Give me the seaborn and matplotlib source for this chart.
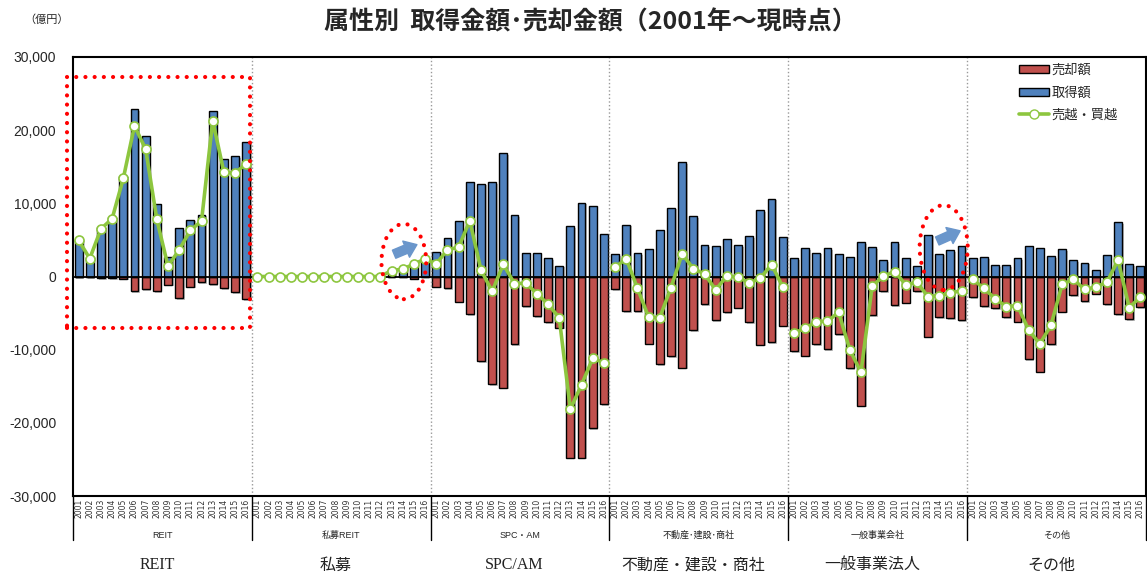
import matplotlib
matplotlib.use("Agg")
import matplotlib.pyplot as plt
import matplotlib.patheffects as pe
import matplotlib.transforms as mtransforms
from matplotlib.lines import Line2D
from matplotlib.patches import Ellipse, Patch, Rectangle
import pandas as pd
import seaborn as sns

sns.set_theme(style="white")
plt.rcParams["font.family"] = ["Liberation Sans", "Noto Sans CJK JP", "DejaVu Sans"]

BLUE = "#4F81BD"
RED = "#C0504D"
GREEN = "#8DC63F"

years = ["2001", "2002", "2003", "2004", "2005", "2006", "2007", "2008",
         "2009", "2010", "2011", "2012", "2013", "2014", "2015", "2016"]
groups = ["REIT", "私募REIT", "SPC・AM", "不動産･建設･商社", "一般事業会社", "その他"]
groups_big = ["REIT", "私募", "SPC/AM", "不動産・建設・商社", "一般事業法人", "その他"]

# 取得額 (億円)
acq_reit = [5000, 2600, 6800, 8200, 13800, 22900, 19200, 9900, 2650, 6600, 7750, 8450, 22600, 16000, 16450, 18400]
acq_private = [0, 0, 0, 0, 0, 0, 0, 0, 0, 0, 0, 0, 1000, 1100, 1600, 2300]
acq_spc = [3380, 5250, 7580, 12880, 12700, 12880, 16900, 8360, 3240, 3240, 2510, 1460, 6850, 10090, 9630, 5750]
acq_realestate = [3060, 7080, 3150, 3740, 6350, 9400, 15620, 8260, 4290, 4160, 5070, 4290, 5480, 9090, 10640, 5390]
acq_corp = [2470, 3880, 3240, 3880, 3110, 2650, 4700, 4020, 2190, 4660, 2470, 1420, 5710, 3110, 3560, 4160]
acq_other = [2470, 2650, 1550, 1550, 2470, 4160, 3880, 2740, 3740, 2190, 1870, 910, 2920, 7440, 1690, 1370]

# 売却額 (億円)
sale_reit = [-100, -100, -200, -200, -300, -2000, -1700, -2000, -1100, -3000, -1400, -800, -1050, -1550, -2150, -3100]
sale_private = [0, 0, 0, 0, 0, 0, 0, 0, 0, 0, 0, 0, 0, 0, -300, 0]
sale_spc = [-1370, -1550, -3420, -5110, -11600, -14750, -15200, -9270, -4020, -5430, -6210, -6990, -24750, -24750, -20690, -17490]
sale_realestate = [-1740, -4700, -4700, -9180, -11960, -10870, -12470, -7310, -3740, -5940, -4840, -4250, -6260, -9320, -9000, -6710]
sale_corp = [-10230, -10820, -9270, -9910, -7900, -12560, -17670, -5300, -2010, -3880, -3560, -2010, -8220, -5570, -5710, -5980]
sale_other = [-2830, -4020, -4340, -5570, -6160, -11320, -13010, -9270, -4790, -2510, -3380, -2330, -3740, -5160, -5840, -4200]

# 売越・買越 (億円)
net_reit = [4950, 2450, 6500, 7900, 13400, 20600, 17400, 7800, 1400, 3650, 6300, 7600, 21300, 14250, 14150, 15400]
net_private = [0, 0, 0, 0, 0, 0, 0, 0, 0, 0, 0, 0, 820, 1000, 1700, 2400]
net_spc = [1735, 3650, 4000, 7630, 910, -2050, 1690, -1000, -900, -2330, -3790, -5620, -18130, -14790, -11190, -11780]
net_realestate = [1280, 2420, -1600, -5570, -5620, -1510, 3100, 1050, 370, -1830, 90, -90, -870, -230, 1640, -1420]
net_corp = [-7720, -7080, -6160, -6120, -4890, -10000, -13100, -1320, 50, 680, -1100, -820, -2740, -2600, -2280, -1920]
net_other = [-370, -1640, -3010, -4110, -3970, -7310, -9220, -6670, -1050, -410, -1740, -1460, -780, 2240, -4250, -2790]

acq = [acq_reit, acq_private, acq_spc, acq_realestate, acq_corp, acq_other]
sale = [sale_reit, sale_private, sale_spc, sale_realestate, sale_corp, sale_other]
net = [net_reit, net_private, net_spc, net_realestate, net_corp, net_other]

rows = []
for gi, g in enumerate(groups):
    for yi, y in enumerate(years):
        rows.append({"pos": gi * len(years) + yi, "group": g, "year": y,
                     "acq": acq[gi][yi], "sale": sale[gi][yi], "net": net[gi][yi]})
df = pd.DataFrame(rows)
n = len(df)

fig = plt.figure(figsize=(11.47, 5.74), dpi=100)
ax = fig.add_axes([73 / 1147, 1 - 496 / 574, 1073 / 1147, 439 / 574])

sns.barplot(data=df, x="pos", y="sale", native_scale=True, width=0.7, color=RED,
            saturation=1, edgecolor="black", linewidth=1, errorbar=None, ax=ax)
sns.barplot(data=df, x="pos", y="acq", native_scale=True, width=0.7, color=BLUE,
            saturation=1, edgecolor="black", linewidth=1, errorbar=None, ax=ax)
for p in ax.patches:
    p.set_path_effects([pe.SimplePatchShadow(offset=(1.2, -1.2), shadow_rgbFace="gray", alpha=0.5),
                        pe.Normal()])

ax.axhline(0, color="black", lw=1.3, zorder=3)

# the green line breaks between groups, except 私募REIT -> SPC・AM
segments = [["REIT"], ["私募REIT", "SPC・AM"], ["不動産･建設･商社"], ["一般事業会社"], ["その他"]]
for seg in segments:
    sub = df[df["group"].isin(seg)]
    sns.lineplot(data=sub, x="pos", y="net", color=GREEN, lw=2.6, marker="o",
                 markersize=6.5, markerfacecolor="white", markeredgecolor=GREEN,
                 markeredgewidth=1.2, ax=ax, zorder=5)

ax.set_xlim(-0.5, n - 0.5)
ax.set_ylim(-30000, 30000)
ax.set_yticks([-30000, -20000, -10000, 0, 10000, 20000, 30000])
ax.set_yticklabels([f"{v:,}" for v in [-30000, -20000, -10000, 0, 10000, 20000, 30000]], fontsize=10)
ax.set_xticks(df["pos"])
ax.set_xticklabels(df["year"], rotation=90, fontsize=5.5, family="DejaVu Sans", color="#333333")
ax.tick_params(axis="x", length=0, pad=2)
ax.tick_params(axis="y", length=0, pad=12)
ax.set_xlabel("")
ax.set_ylabel("")
for s in ax.spines.values():
    s.set_color("black")
    s.set_linewidth(1.5)

trans = mtransforms.blended_transform_factory(ax.transData, ax.transAxes)
bounds = [gi * len(years) - 0.5 for gi in range(len(groups) + 1)]
for b in bounds:
    ax.plot([b, b], [0, -0.1], transform=trans, color="black", lw=1, clip_on=False)
for b in bounds[1:-1]:
    ax.axvline(b, color="#999999", ls=":", lw=1, zorder=1)
for gi, g in enumerate(groups):
    c = gi * len(years) + (len(years) - 1) / 2
    ax.text(c, -0.089, g, transform=trans, ha="center", va="center", fontsize=6.5)
    ax.text(c - 0.5, -0.158, groups_big[gi], transform=trans, ha="center", va="center",
            fontsize=11.5, family=["Liberation Serif", "Noto Sans CJK JP"], color="#222222")

# red dotted highlights
dots = dict(edgecolor="red", facecolor="none", linewidth=3, linestyle=(0, (0.01, 2.2)),
            capstyle="round", zorder=6)
ax.add_patch(Rectangle((-1.05, -7000), 16.43, 34200, clip_on=False, **dots))
ax.add_patch(Ellipse((29.1, 2050), 4.0, 10300, **dots))
ax.add_patch(Ellipse((77.4, 3950), 4.3, 11600, **dots))
arrow = dict(arrowstyle="simple,head_length=0.6,head_width=0.9,tail_width=0.45",
             color="#6A96CB", mutation_scale=14)
ax.annotate("", xy=(30.5, 4500), xytext=(28.0, 2900), arrowprops=arrow, zorder=7)
ax.annotate("", xy=(79.1, 6400), xytext=(76.6, 4700), arrowprops=arrow, zorder=7)

handles = [Patch(facecolor=RED, edgecolor="black", label="売却額"),
           Patch(facecolor=BLUE, edgecolor="black", label="取得額"),
           Line2D([], [], color=GREEN, lw=2.6, marker="o", markersize=6.5,
                  markerfacecolor="white", markeredgecolor=GREEN, label="売越・買越")]
fig.legend(handles=handles, loc="upper left", bbox_to_anchor=(1012 / 1147, 1 - 58 / 574),
           frameon=False, fontsize=9.5, handlelength=2.3, handleheight=0.6,
           labelspacing=0.75, borderpad=0, handletextpad=0.2)

fig.text(590 / 1147, 1 - 22 / 574, "属性別  取得金額･売却金額（2001年～現時点）",
         ha="center", va="center", fontsize=18, fontweight="bold",
         family=["Noto Sans CJK JP", "DejaVu Sans"])
fig.text(47 / 1147, 1 - 20 / 574, "（億円）", ha="center", va="center", fontsize=8,
         family=["Noto Sans CJK JP"])

fig.savefig("out.png", dpi=100)
